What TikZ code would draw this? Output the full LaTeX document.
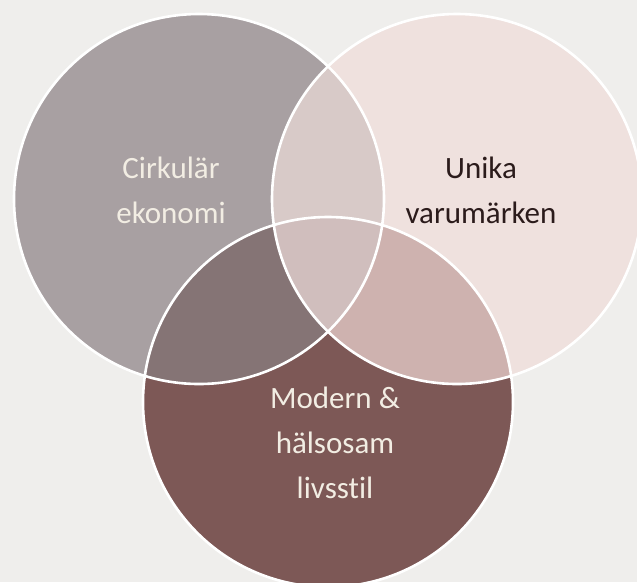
\documentclass[tikz,border=0pt]{standalone}
\usepackage{fontspec}
\setmainfont[Ligatures=NoCommon]{Carlito}
\definecolor{bg}{HTML}{EFEEEC}
\definecolor{cL}{HTML}{A8A0A2}
\definecolor{cR}{HTML}{EFE1DE}
\definecolor{cB}{HTML}{7D5856}
\definecolor{cLR}{HTML}{D8CAC8}
\definecolor{cLB}{HTML}{857475}
\definecolor{cRB}{HTML}{CEB2AF}
\definecolor{cLRB}{HTML}{D0BEBD}
\definecolor{txtlight}{HTML}{F2EDE3}
\definecolor{txtdark}{HTML}{2B1B1B}
\tikzset{
  venn/.style={circle, minimum size=370pt, inner sep=0pt, outer sep=0pt},
  rim/.style={draw=white, line width=2.6pt},
  lbl/.style={align=center, inner sep=0pt, font=\fontsize{31}{45}\selectfont}
}
\begin{document}
\begin{tikzpicture}[x=1pt,y=-1pt]
\useasboundingbox (0,0) rectangle (637,582);
\fill[bg] (0,0) rectangle (637,582);
\node[venn, fill=cL] (L) at (199,199) {};
\node[venn, fill=cR] (R) at (457,199) {};
\node[venn, fill=cB] (B) at (328,402) {};
\begin{scope}
  \clip (L.center) circle (185pt);
  \fill[cLR] (R.center) circle (185pt);
  \fill[cLB] (B.center) circle (185pt);
\end{scope}
\begin{scope}
  \clip (R.center) circle (185pt);
  \fill[cRB] (B.center) circle (185pt);
  \clip (L.center) circle (185pt);
  \fill[cLRB] (B.center) circle (185pt);
\end{scope}
\draw[rim] (L.center) circle (185pt);
\draw[rim] (R.center) circle (185pt);
\draw[rim] (B.center) circle (185pt);
\node[lbl, text=txtlight] (tL) at (171,190) {Cirkulär\\ekonomi};
\node[lbl, text=txtdark] (tR) at (481,190) {Unika\\varumärken};
\node[lbl, text=txtlight] (tB) at (335,443) {Modern \&\\hälsosam\\livsstil};
\end{tikzpicture}
\end{document}
